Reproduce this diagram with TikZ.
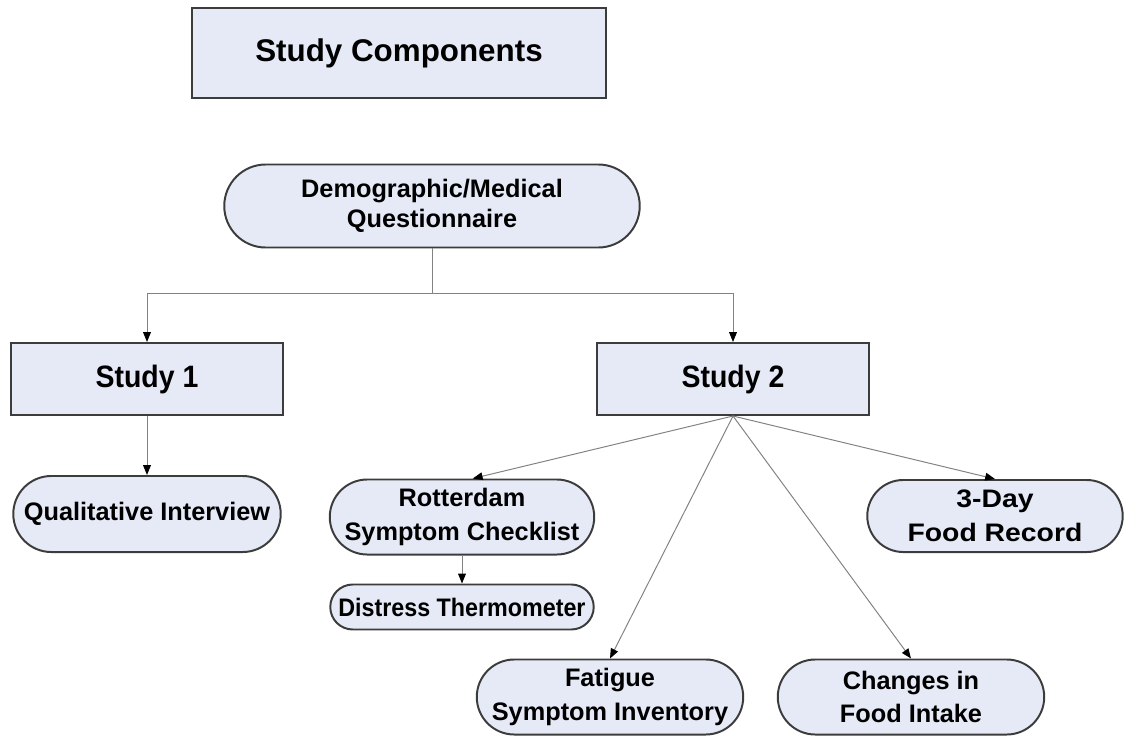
\documentclass[tikz,border=0pt]{standalone}
\usepackage{fontspec}
\setmainfont{Liberation Sans}
\newfontfamily\distfont{Liberation Sans}[FakeStretch=0.92]
\newfontfamily\widefont{Liberation Sans}[FakeStretch=1.12]
\newfontfamily\studyfont{Liberation Sans}[FakeStretch=0.92]
\usetikzlibrary{arrows.meta,shapes.misc}
\definecolor{boxfill}{RGB}{230,234,246}
\definecolor{boxline}{RGB}{60,60,60}
\definecolor{linegray}{RGB}{130,130,130}

\begin{document}
\begin{tikzpicture}[x=0.025cm,y=-0.025cm,
    box/.style={draw=boxline,fill=boxfill,line width=1.4pt,align=center,inner sep=2pt},
    oval/.style={box,rounded rectangle,font=\bfseries\fontsize{18}{21.3}\selectfont},
    conn/.style={draw=linegray,line width=0.7pt,-{Triangle[length=7pt,width=5.5pt,color=black]}}]
    \useasboundingbox (0,0) rectangle (1133,738);

    % Titulo
    \node[box,minimum width=10.35cm,minimum height=2.25cm,
          font=\bfseries\fontsize{22.3}{26}\selectfont] (title) at (399,53) {Study Components};

    % Cajas
    \node[oval,minimum width=10.525cm,minimum height=2.075cm] (demo) at (432,206)
        {Demographic/Medical\\Questionnaire};
    \begin{scope}[every node/.style={box,minimum width=6.8cm,minimum height=1.8cm,
                  font=\studyfont\bfseries\fontsize{22}{26}\selectfont}]
        \node (study1) at (147,379) {Study 1};
        \node (study2) at (733,379) {Study 2};
    \end{scope}
    \node[oval,minimum width=6.825cm,minimum height=1.9cm] (qual) at (147,514) {Qualitative Interview};
    \node[oval,minimum width=6.75cm,minimum height=1.875cm,
          font=\bfseries\fontsize{18}{24}\selectfont] (rotter) at (462,517)
        {Rotterdam\\Symptom Checklist};
    \node[oval,minimum width=6.725cm,minimum height=1.125cm,
          font=\distfont\bfseries\fontsize{18}{21}\selectfont] (distress) at (462,607) {Distress Thermometer};
    \node[oval,minimum width=6.525cm,minimum height=1.8cm,
          font=\widefont\bfseries\fontsize{18}{24.5}\selectfont] (food) at (995,516) {3-Day\\Food Record};
    \begin{scope}[every node/.style={oval,minimum width=6.8cm,minimum height=1.875cm,
                  font=\bfseries\fontsize{18}{24}\selectfont}]
        \node (fatigue) at (610,697) {Fatigue\\Symptom Inventory};
        \node (intake) at (911,697) {Changes in\\Food Intake};
    \end{scope}

    % Flechas
    \coordinate (split) at (432,293);
    \draw[draw=linegray,line width=0.7pt] (demo.south) -- (split);
    \begin{scope}[conn]
        \draw (split) -| (study1.north);
        \draw (split) -| (study2.north);
        \draw (study1.south) -- (qual.north);
        \draw (study2.south) -- ([xshift=0.27cm]rotter.north);
        \draw (study2.south) -- (fatigue.north);
        \draw (study2.south) -- (intake.north);
        \draw (study2.south) -- (food.north);
        \draw (rotter.south) -- (distress.north);
    \end{scope}
\end{tikzpicture}
\end{document}
